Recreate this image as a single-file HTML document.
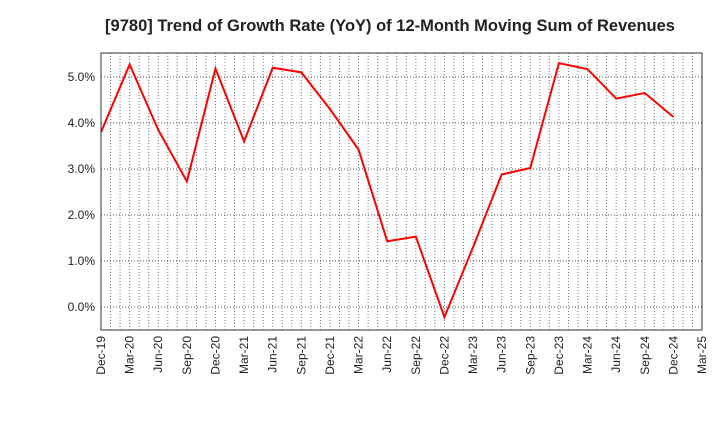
<!DOCTYPE html>
<html><head><meta charset="utf-8"><style>
body{margin:0;background:#fff;font-family:"Liberation Sans",sans-serif;}
</style></head><body>
<svg id="chart" width="720" height="440" xmlns="http://www.w3.org/2000/svg" font-family="Liberation Sans, sans-serif">
<text x="390" y="31" text-anchor="middle" font-size="16.5" font-weight="bold" fill="#222">[9780]  Trend of Growth Rate (YoY) of 12-Month Moving Sum of Revenues</text>
<g id="grid"></g>
<g id="axes"></g>
<polyline id="line" fill="none" stroke="#f00" stroke-width="2"/>
<rect x="101" y="53" width="601" height="277" fill="none" stroke="#333" stroke-width="1"/>
</svg>
<script>
const categories=["Dec-19","Mar-20","Jun-20","Sep-20","Dec-20","Mar-21","Jun-21","Sep-21","Dec-21","Mar-22","Jun-22","Sep-22","Dec-22","Mar-23","Jun-23","Sep-23","Dec-23","Mar-24","Jun-24","Sep-24","Dec-24","Mar-25"];
const values=[3.8,5.27,3.85,2.73,5.18,3.6,5.2,5.1,4.3,3.42,1.43,1.53,-0.22,1.3,2.88,3.02,5.3,5.17,4.53,4.65,4.13];
const yTicks=[0,1,2,3,4,5];
const yTickLabels=["0.0%","1.0%","2.0%","3.0%","4.0%","5.0%"];
const L=101,R=702,T=53,B=330,yMin=-0.5,yMax=5.52;
const ns="http://www.w3.org/2000/svg";
const x=i=>L+(R-L)*i/(categories.length-1);
const y=v=>B-(v-yMin)/(yMax-yMin)*(B-T);
const grid=document.getElementById('grid'),axes=document.getElementById('axes');
function mk(t,a,p){const e=document.createElementNS(ns,t);for(const k in a)e.setAttribute(k,a[k]);p.appendChild(e);return e;}
const nMonths=(categories.length-1)*3;
for(let m=1;m<nMonths;m++){const xx=L+(R-L)*m/nMonths;
const g=mk('line',{x1:xx,x2:xx,y1:T,y2:B,stroke:'#777','stroke-dasharray':'1,2','stroke-width':1},grid);
}
yTicks.forEach((v,i)=>{const yy=y(v);
const g=mk('line',{x1:L,x2:R,y1:yy,y2:yy,stroke:'#555','stroke-dasharray':'1,2','stroke-width':1},grid);

const t=mk('text',{x:L-6,y:yy+4,'text-anchor':'end','font-size':12,fill:'#222'},axes);t.textContent=yTickLabels[i];
});
categories.forEach((c,i)=>{const xx=x(i);
const t=mk('text',{transform:`translate(${xx+4},${B+6}) rotate(-90)`,'text-anchor':'end','font-size':12,fill:'#222'},axes);t.textContent=c;
});
document.getElementById('line').setAttribute('points',values.map((v,i)=>x(i)+','+y(v)).join(' '));
</script>
</body></html>
